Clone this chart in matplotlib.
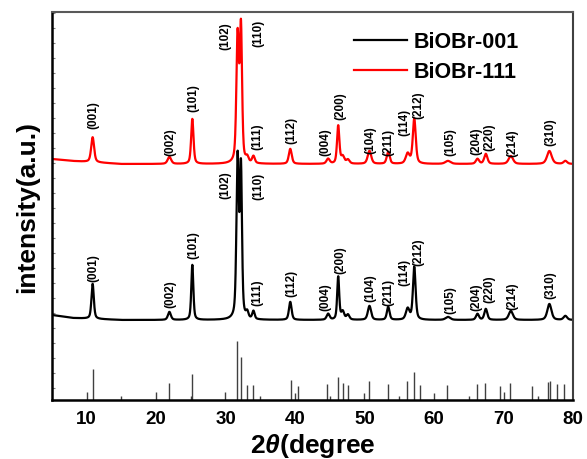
import numpy as np
import matplotlib
matplotlib.use("Agg")
import matplotlib.pyplot as plt

plt.rcParams['font.family'] = ['Liberation Sans', 'DejaVu Sans']
plt.rcParams['mathtext.fontset'] = 'custom'
plt.rcParams['mathtext.it'] = 'Liberation Sans:italic:bold'
plt.rcParams['mathtext.rm'] = 'Liberation Sans:bold'

# peak table (2theta, height above baseline, fwhm)
peak_pos = [10.85, 21.9, 25.2, 31.72, 32.2, 33.1, 34.0, 39.3, 44.75, 46.2, 46.85, 47.6,
            50.7, 53.4, 56.2, 57.15, 62.0, 66.25, 67.45, 71.05, 76.6, 78.9]
black_h = [35, 8, 55, 160, 148, 6, 8, 18, 6, 43, 8, 5, 14, 13, 11, 53, 3, 6, 11, 9, 16, 4]
black_w = [0.4, 0.5, 0.35, 0.4, 0.35, 0.4, 0.4, 0.45, 0.5, 0.35, 0.5, 0.5,
           0.55, 0.45, 0.6, 0.45, 0.8, 0.5, 0.5, 0.7, 0.7, 0.6]
red_h = [25, 7, 45, 126, 133, 5, 7, 15, 5, 38, 7, 4, 13, 12, 10, 45, 3, 5, 10, 8, 13, 3]
red_w = [0.5, 0.6, 0.4, 0.42, 0.38, 0.45, 0.45, 0.5, 0.55, 0.4, 0.55, 0.55,
         0.6, 0.5, 0.65, 0.5, 0.9, 0.55, 0.55, 0.75, 0.8, 0.6]

# baselines (vertical offset of each pattern)
base_x = [5, 8, 15, 80]
black_base = [85, 82, 80, 80]
red_base = [241, 239, 236, 236]

# standard card sticks (2theta, relative height)
stick_pos = [10.0, 10.86, 14.93, 19.97, 21.9, 25.0, 25.15, 29.97, 31.58, 32.16, 33.08, 34.0,
             34.94, 39.36, 39.98, 40.37, 44.65, 45.02, 46.12, 46.84, 47.63, 49.98, 50.63,
             53.32, 54.95, 56.06, 57.11, 57.98, 59.99, 61.86, 65.03, 66.18, 67.33, 69.49,
             70.02, 70.98, 74.14, 74.92, 76.35, 76.64, 77.69, 78.70]
stick_h = [8, 31, 4, 8, 17, 4, 26, 8, 59, 43, 15, 15,
           4, 20, 7.5, 14, 16, 4, 23.5, 17.5, 15, 7.5, 19,
           16.5, 4, 19, 28.5, 15, 7.5, 15, 4, 16, 17, 13.7,
           7.7, 17.5, 13.7, 4, 17.7, 18.7, 16, 16]

# miller index labels
hkl = ['(001)', '(002)', '(101)', '(102)', '(110)', '(111)', '(112)', '(004)', '(200)',
       '(104)', '(211)', '(114)', '(212)', '(105)', '(204)', '(220)', '(214)', '(310)']
hkl_x = [10.9, 22.0, 25.4, 29.9, 34.75, 34.5, 39.5, 44.4, 46.45, 50.9, 53.4, 55.7, 57.8,
         62.3, 66.1, 68.0, 71.3, 76.8]
red_label_y = [286, 259, 303, 365, 368, 264, 271, 259, 295, 261, 259, 279, 296, 259, 260,
               264, 258, 269]
black_label_y = [133, 107, 156, 216, 215, 108, 118, 104, 141, 113, 109, 129, 149, 101, 104,
                 112, 105, 116]


def pattern(x, pos, h, w, eta=0.5):
    y = np.zeros_like(x)
    for p, a, f in zip(pos, h, w):
        hw = f / 2
        lor = 1 / (1 + ((x - p) / hw) ** 2)
        gau = np.exp(-np.log(2) * ((x - p) / hw) ** 2)
        y += a * (eta * lor + (1 - eta) * gau)
    return y


tt = np.linspace(5, 80, 4000)
black_y = pattern(tt, peak_pos, black_h, black_w) + np.interp(tt, base_x, black_base)
red_y = pattern(tt, peak_pos, red_h, red_w) + np.interp(tt, base_x, red_base)

fig = plt.figure(figsize=(5.87, 4.60), dpi=100)
ax = fig.add_axes([52 / 587, 59 / 460, 521 / 587, 388 / 460])

ax.vlines(stick_pos, 0, stick_h, colors='0.25', lw=1.0)
ax.plot(tt, black_y, color='black', lw=1.6, label='BiOBr-001')
ax.plot(tt, red_y, color='red', lw=1.6, label='BiOBr-111')

for lab, xx, yr, yb in zip(hkl, hkl_x, red_label_y, black_label_y):
    ax.text(xx, yr, lab, rotation=90, ha='center', va='center', fontsize=8.5, fontweight='bold')
    ax.text(xx, yb, lab, rotation=90, ha='center', va='center', fontsize=8.5, fontweight='bold')

ax.set_xlim(5, 80)
ax.set_ylim(0, 388)
ax.set_xticks([10, 20, 30, 40, 50, 60, 70, 80])
ax.set_yticks(np.arange(12, 388, 15))
ax.set_yticklabels([])
ax.tick_params(axis='x', length=0, labelsize=13.5, pad=7)
ax.tick_params(axis='y', direction='in', length=2.5, width=0.8, color='0.5')
for lab in ax.get_xticklabels():
    lab.set_fontweight('bold')

ax.spines['left'].set_linewidth(1.8)
ax.spines['bottom'].set_linewidth(1.8)
ax.spines['top'].set_linewidth(1.5)
ax.spines['right'].set_linewidth(1.5)
ax.spines['top'].set_color('0.35')
ax.spines['right'].set_color('0.25')

ax.set_xlabel(r'2$\theta$(degree', fontsize=19, fontweight='bold', labelpad=3)
ax.set_ylabel('intensity(a.u.)', fontsize=19, fontweight='bold', labelpad=6)

leg = ax.legend(loc='upper left', bbox_to_anchor=(0.58, 0.95), frameon=False,
                prop={'size': 15.5, 'weight': 'bold'}, handlelength=2.45,
                handletextpad=0.32, borderpad=0, borderaxespad=0, labelspacing=0.42)

fig.savefig('out.png', dpi=100)
